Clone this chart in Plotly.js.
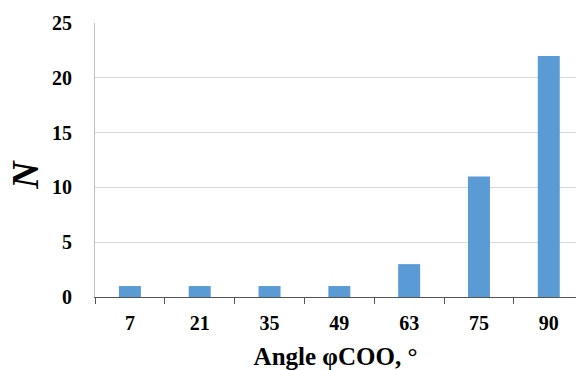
<!DOCTYPE html>
<html><head><meta charset="utf-8">
<script src="https://cdn.plot.ly/plotly-3.0.1.min.js"></script>
<style>html,body{margin:0;padding:0;background:#fff}#c{width:576px;height:370px}</style>
</head><body><div id="c"></div>
<script>
const categories = ["7","21","35","49","63","75","90"];
const counts = [1,1,1,1,3,11,22];
const yTicks = [0,5,10,15,20,25];

const fam = "Liberation Serif, Times New Roman, serif";
Plotly.newPlot("c", [{
  type:"bar", x:categories, y:counts,
  marker:{color:"#5B9BD5"}, hoverinfo:"none"
}], {
  width:576, height:370,
  margin:{l:95, r:0, t:23, b:73},
  paper_bgcolor:"#fff", plot_bgcolor:"#fff",
  bargap:0.685,
  showlegend:false,
  xaxis:{
    type:"category", range:[-0.5, 6.39],
    tickson:"boundaries", ticks:"outside", ticklen:6, tickcolor:"#555", tickwidth:1,
    showline:true, linecolor:"#555", linewidth:1.3,
    showgrid:false, zeroline:false, ticklabelstandoff:8,
    tickfont:{family:fam, size:20, color:"#000", weight:"bold"},
    title:{text:"<b>Angle φCOO, °</b>", font:{family:fam, size:25, color:"#000"}, standoff:14}
  },
  yaxis:{
    range:[0,25], tickvals:yTicks, ticktext:yTicks.map(String),
    showgrid:true, gridcolor:"#d9d9d9", gridwidth:1,
    showline:true, linecolor:"#bfbfbf", linewidth:1,
    zeroline:false, ticks:"", ticklabelstandoff:18,
    tickfont:{family:fam, size:20, color:"#000", weight:"bold"}
  },
  annotations:[{
    text:"<b><i>N</i></b>", xref:"paper", yref:"paper",
    x:-0.146, y:0.445, xanchor:"center", yanchor:"middle",
    textangle:-90, showarrow:false,
    font:{family:fam, size:38, color:"#000"}
  }]
}, {staticPlot:true});
</script></body></html>
